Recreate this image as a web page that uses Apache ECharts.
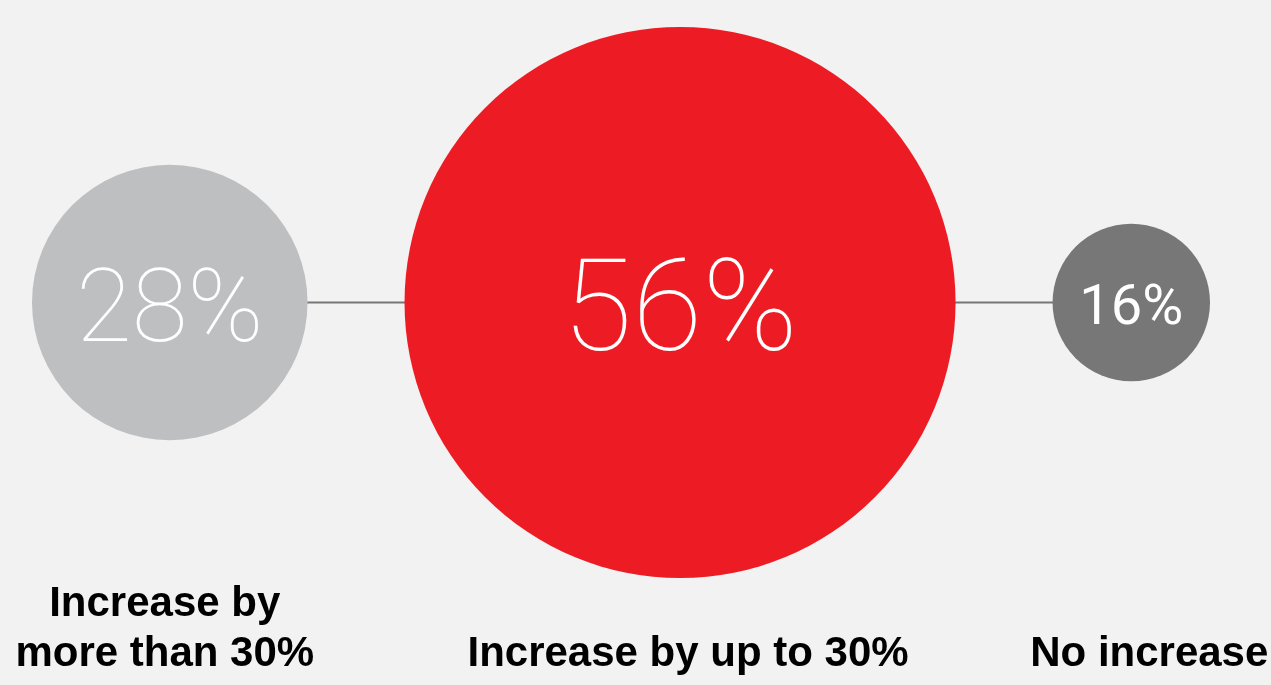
<!DOCTYPE html>
<html>
<head>
<meta charset="utf-8">
<script src="https://cdn.jsdelivr.net/npm/echarts@6/dist/echarts.min.js"></script>
<style>
  html, body { margin: 0; padding: 0; background: #f2f2f2; }
  #chart { width: 1271px; height: 685px; }
</style>
</head>
<body>
<div id="chart"></div>
<script>
// ---- data ----
const categories = ['Increase by\nmore than 30%', 'Increase by up to 30%', 'No increase'];
const values = [28, 56, 16];
const valueLabels = ['28%', '56%', '16%'];

// ---- styles ----
const colors = ['#bebfc1', '#ed1c24', '#777777'];
const pctFontSize = [102, 128, 56];
const pctFontWeight = [100, 100, 400];
const pctDy = [13, 15, 7];
const labelDx = [-5, 8, 18];
const DIAM_PER_UNIT = 9.84;   // circle diameter (px) per percentage point
const GAP = 97;               // gap between neighbouring circles
const START = 32;             // left edge of first circle
const LABEL_Y = -377;         // bottom of category labels (axis units)

// circle centres derived from the values (circles packed with equal gaps)
const centers = [];
let edge = START;
values.forEach(v => {
  const d = v * DIAM_PER_UNIT;
  centers.push(edge + d / 2);
  edge += d + GAP;
});

const chart = echarts.init(document.getElementById('chart'));
chart.setOption({
  backgroundColor: '#f2f2f2',
  animation: false,
  grid: { left: 0, right: 0, top: 0, bottom: 0 },
  xAxis: { type: 'value', min: 0, max: 1271, show: false },
  yAxis: { type: 'value', min: -382.5, max: 302.5, show: false },
  series: [
    {
      type: 'line',
      silent: true,
      z: 1,
      symbol: 'none',
      clip: false,
      lineStyle: { color: '#777777', width: 2 },
      data: centers.map(x => [x, 0])
    },
    {
      type: 'scatter',
      z: 2,
      clip: false,
      silent: true,
      symbol: 'circle',
      symbolSize: val => val[2] * DIAM_PER_UNIT,
      itemStyle: { opacity: 1 },
      data: values.map((v, i) => ({
        value: [centers[i], 0, v],
        itemStyle: { color: colors[i], opacity: 1 },
        label: { fontSize: pctFontSize[i], fontWeight: pctFontWeight[i], offset: [0, pctDy[i]] }
      })),
      label: {
        show: true,
        position: 'inside',
        color: '#ffffff',
        fontFamily: 'Roboto',
        formatter: p => valueLabels[p.dataIndex]
      }
    },
    {
      type: 'scatter',
      z: 3,
      clip: false,
      silent: true,
      symbolSize: 0,
      itemStyle: { opacity: 1 },
      data: centers.map((x, i) => [x + labelDx[i], LABEL_Y]),
      label: {
        show: true,
        position: 'inside',
        align: 'center',
        verticalAlign: 'bottom',
        color: '#000000',
        opacity: 1,
        textBorderWidth: 0,
        fontFamily: 'Liberation Sans',
        fontWeight: 'bold',
        fontSize: 42,
        lineHeight: 50,
        formatter: p => categories[p.dataIndex]
      }
    }
  ]
});
</script>
</body>
</html>
